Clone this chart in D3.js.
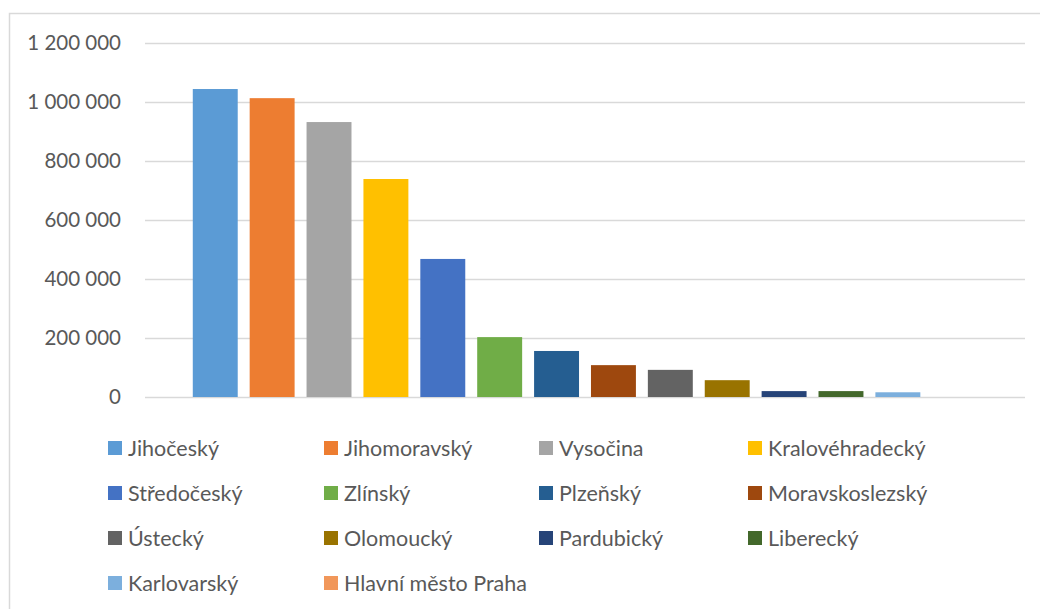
<!DOCTYPE html>
<html>
<head>
<meta charset="utf-8">
<script src="https://cdn.jsdelivr.net/npm/d3@7"></script>
<style>
  body { margin: 0; background: #fff; }
  text { font-family: Lato, "Open Sans", sans-serif; fill: #595959; }
</style>
</head>
<body>
<svg width="1040" height="609"></svg>
<script>
// kraje (each one is its own series in the original chart)
const regions = ["Jihočeský", "Jihomoravský", "Vysočina", "Kralovéhradecký", "Středočeský", "Zlínský", "Plzeňský",
	"Moravskoslezský", "Ústecký", "Olomoucký", "Pardubický", "Liberecký", "Karlovarský", "Hlavní město Praha"];
const values = [1044000, 1013000, 932000, 739000, 468000, 203000, 156000, 108000, 92000, 57000, 20000, 20000, 16000, 0];
const colors = ["#5B9BD5", "#ED7D31", "#A5A5A5", "#FFC000", "#4472C4", "#70AD47", "#255E91",
	"#9E480E", "#636363", "#997300", "#264478", "#43682B", "#7CAFDD", "#F1975A"];
const yTicks = [0, 200000, 400000, 600000, 800000, 1000000, 1200000];

const svg = d3.select('svg');

const plot = { left: 145, right: 1025, top: 43, bottom: 397 };

// chart frame (cropped at right and bottom)
svg.append('path')
	.attr('d', 'M9.5,609 L9.5,13.5 L1040,13.5')
	.style('fill', 'none')
	.style('stroke', '#d9d9d9')
	.style('stroke-width', 1.5);

const x = d3.scaleBand()
	.domain(regions)
	.range([plot.left, plot.right])
	.paddingInner(0.21)
	.paddingOuter(0.84);

const y = d3.scaleLinear()
	.domain([0, 1200000])
	.range([plot.bottom, plot.top]);

const locale = d3.formatLocale({ decimal: ",", thousands: " ", grouping: [3], currency: ["", ""] });
const fmt = locale.format(",");

// mrizka + popisky osy y
const yAxis = d3.axisLeft(y)
	.tickValues(yTicks)
	.tickFormat(fmt)
	.tickSize(-(plot.right - plot.left))
	.tickPadding(24);

const gy = svg.append('g')
	.attr('transform', `translate(${plot.left},0)`)
	.call(yAxis);
gy.select('.domain').remove();
gy.selectAll('.tick line')
	.style('stroke', '#d9d9d9')
	.style('stroke-width', 1.5);
gy.selectAll('.tick text')
	.style('font-size', '20.5px')
	.style('fill', '#595959');

// sloupce
svg.append('g')
	.selectAll('rect')
	.data(values)
	.enter()
	.append('rect')
	.attr('x', (d, i) => x(regions[i]))
	.attr('y', d => y(d))
	.attr('width', x.bandwidth())
	.attr('height', d => y(0) - y(d))
	.style('fill', (d, i) => colors[i]);

// legenda
const colX = [0, 216, 431, 640];

const legend = svg.append('g')
	.attr('transform', 'translate(108,448)');

const item = legend.selectAll('g')
	.data(regions)
	.enter()
	.append('g')
	.attr('transform', (d, i) => `translate(${colX[i % 4]},${Math.floor(i / 4) * 45})`);

item.append('rect')
	.attr('x', 0)
	.attr('y', -7)
	.attr('width', 14)
	.attr('height', 14)
	.style('fill', (d, i) => colors[i]);

item.append('text')
	.attr('x', 20)
	.attr('y', 0)
	.attr('dy', '0.36em')
	.style('font-size', '21.5px')
	.text(d => d);
</script>
</body>
</html>
